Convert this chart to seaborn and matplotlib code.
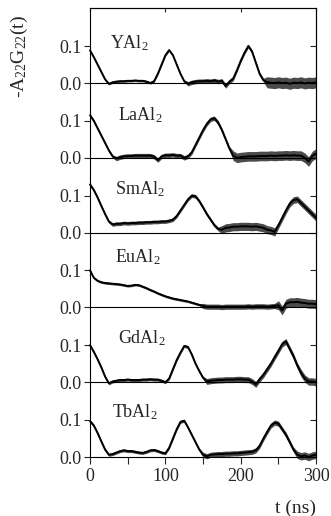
import numpy as np
import pandas as pd
import seaborn as sns
import matplotlib
matplotlib.use("Agg")
import matplotlib.pyplot as plt

# time axis (ns), one reading every 5 ns
t_ns = list(range(0, 301, 5))

samples = ["YAl$_2$", "LaAl$_2$", "SmAl$_2$", "EuAl$_2$", "GdAl$_2$", "TbAl$_2$"]

# mean of the trace
yal2 = [0.088, 0.070, 0.050, 0.030, 0.010, -0.002, 0.002, 0.004, 0.005, 0.005,
        0.006, 0.006, 0.007, 0.006, 0.006, 0.004, 0.000, 0.005, 0.025, 0.050,
        0.075, 0.089, 0.075, 0.050, 0.025, 0.005, -0.002, 0.002, 0.004, 0.005,
        0.005, 0.006, 0.005, 0.007, 0.004, 0.006, -0.008, 0.004, 0.012, 0.035,
        0.060, 0.082, 0.100, 0.085, 0.055, 0.025, 0.008, 0.002, 0.001, 0.000,
        0.002, 0.000, 0.001, -0.002, 0.001, 0.000, 0.002, -0.001, 0.001, 0.000,
        0.002]
laal2 = [0.115, 0.100, 0.080, 0.060, 0.040, 0.020, 0.004, -0.002, 0.002, 0.004,
         0.005, 0.005, 0.006, 0.006, 0.006, 0.006, 0.006, 0.003, -0.006, 0.004,
         0.007, 0.007, 0.008, 0.006, 0.006, 0.000, 0.004, 0.015, 0.035, 0.055,
         0.075, 0.092, 0.104, 0.107, 0.095, 0.075, 0.050, 0.025, 0.006, 0.000,
         0.002, 0.003, 0.004, 0.004, 0.004, 0.005, 0.005, 0.005, 0.006, 0.005,
         0.006, 0.006, 0.007, 0.006, 0.007, 0.006, 0.006, 0.000, -0.010, 0.005,
         0.012]
smal2 = [0.130, 0.115, 0.095, 0.072, 0.050, 0.030, 0.022, 0.024, 0.024, 0.026,
         0.025, 0.026, 0.026, 0.027, 0.027, 0.028, 0.028, 0.029, 0.029, 0.030,
         0.030, 0.032, 0.035, 0.045, 0.060, 0.075, 0.090, 0.100, 0.098, 0.085,
         0.068, 0.050, 0.035, 0.020, 0.010, 0.008, 0.013, 0.014, 0.016, 0.016,
         0.017, 0.017, 0.017, 0.016, 0.017, 0.015, 0.013, 0.008, 0.006, 0.002,
         0.020, 0.040, 0.060, 0.078, 0.088, 0.090, 0.080, 0.070, 0.060, 0.050,
         0.040]
eual2 = [0.100, 0.080, 0.072, 0.068, 0.066, 0.065, 0.064, 0.063, 0.062, 0.060,
         0.058, 0.059, 0.061, 0.060, 0.056, 0.052, 0.047, 0.043, 0.038, 0.034,
         0.030, 0.027, 0.024, 0.022, 0.020, 0.018, 0.016, 0.013, 0.010, 0.007,
         0.004, 0.002, 0.002, 0.002, 0.002, 0.001, 0.002, 0.002, 0.002, 0.002,
         0.002, 0.002, 0.003, 0.002, 0.003, 0.003, 0.003, 0.002, 0.003, 0.004,
         0.006, -0.008, 0.010, 0.014, 0.014, 0.015, 0.013, 0.012, 0.010, 0.010,
         0.009]
gdal2 = [0.100, 0.082, 0.062, 0.040, 0.015, -0.003, 0.002, 0.004, 0.006, 0.006,
         0.007, 0.006, 0.006, 0.006, 0.007, 0.007, 0.008, 0.007, 0.007, 0.004,
         0.000, 0.010, 0.035, 0.060, 0.080, 0.098, 0.095, 0.075, 0.050, 0.030,
         0.012, 0.002, 0.004, 0.005, 0.006, 0.006, 0.007, 0.007, 0.007, 0.008,
         0.008, 0.007, 0.007, 0.002, -0.006, 0.008, 0.020, 0.035, 0.050, 0.068,
         0.085, 0.103, 0.110, 0.090, 0.070, 0.045, 0.025, 0.010, 0.002, 0.002,
         0.000]
tbal2 = [0.097, 0.085, 0.065, 0.042, 0.020, 0.006, 0.008, 0.012, 0.016, 0.018,
         0.016, 0.016, 0.014, 0.012, 0.011, 0.014, 0.018, 0.019, 0.016, 0.012,
         0.010, 0.025, 0.050, 0.075, 0.095, 0.098, 0.080, 0.060, 0.040, 0.020,
         0.006, 0.002, 0.006, 0.007, 0.008, 0.008, 0.009, 0.009, 0.010, 0.010,
         0.011, 0.012, 0.013, 0.014, 0.018, 0.030, 0.050, 0.068, 0.085, 0.093,
         0.090, 0.075, 0.060, 0.040, 0.020, 0.006, 0.002, 0.004, 0.000, 0.004,
         0.006]

# half-width of the noise band around each trace (x 0.001)
yal2_noise = [3] * 26 + [6] * 13 + [5] * 8 + [15] * 14
laal2_noise = [4] * 7 + [6] * 20 + [6] * 11 + [13] * 23
smal2_noise = [4] * 6 + [5] * 29 + [11] * 15 + [9] * 11
eual2_noise = [3] * 30 + [7] * 20 + [12] * 11
gdal2_noise = [4] * 31 + [8] * 15 + [8] * 10 + [10] * 5
tbal2_noise = [4] * 30 + [7] * 25 + [10] * 6

series = [yal2, laal2, smal2, eual2, gdal2, tbal2]
noise = [yal2_noise, laal2_noise, smal2_noise, eual2_noise, gdal2_noise, tbal2_noise]
label_pos = [(27, 0.108), (37, 0.115), (33, 0.117), (33, 0.135), (37, 0.12), (29, 0.12)]

sns.set_theme(style="ticks")
plt.rcParams["font.family"] = ["Liberation Serif", "DejaVu Serif"]
plt.rcParams["mathtext.fontset"] = "custom"
plt.rcParams["mathtext.rm"] = "Liberation Serif"
plt.rcParams["mathtext.it"] = "Liberation Serif:italic"

fig, axes = plt.subplots(6, 1, sharex=True, figsize=(3.31, 5.16), dpi=100)
plt.subplots_adjust(left=0.272, right=0.955, top=0.984, bottom=0.1143, hspace=0)

for i, ax in enumerate(axes):
    df = pd.DataFrame({"t": t_ns, "a": series[i],
                       "w": np.array(noise[i]) / 1000.0})
    # noise envelope, then the trace itself
    ax.fill_between(df["t"], df["a"] - df["w"], df["a"] + df["w"],
                    color="#2b2b2b", alpha=0.85, lw=0, clip_on=False)
    sns.lineplot(data=df, x="t", y="a", ax=ax, color="black", lw=1.4, clip_on=False)
    ax.set_facecolor("none")
    ax.set_xlim(0, 300)
    ax.set_ylim(0, 0.202)
    ax.set_yticks([0.0, 0.1])
    ax.set_yticklabels(["0.0", "0.1"], fontsize=13)
    ax.tick_params(axis="y", direction="out", length=4, width=0.8, pad=2, left=True)
    ax.set_xlabel("")
    ax.set_ylabel("")
    for s in ax.spines.values():
        s.set_linewidth(0.8)
        s.set_color("black")
    ax.spines["top"].set_visible(i == 0)
    sec = ax.secondary_yaxis("right")
    sec.set_yticks([0.0, 0.1])
    sec.tick_params(direction="in", length=4, width=0.8, labelright=False)
    sec.spines["right"].set_linewidth(0.8)
    ax.text(label_pos[i][0], label_pos[i][1], samples[i], fontsize=13,
            ha="left", va="center")

bottom = axes[-1]
bottom.set_xticks([0, 100, 200, 300])
bottom.set_xticks([50, 150, 250], minor=True)
bottom.set_xticklabels(["0", "100", "200", "300"], fontsize=13)
for ax in axes[:-1]:
    ax.tick_params(axis="x", which="both", bottom=False, top=False, labelbottom=False)
bottom.tick_params(axis="x", which="both", direction="out", length=5, width=0.8, pad=3)

top = axes[0].secondary_xaxis("top")
top.set_xticks([0, 100, 200, 300])
top.tick_params(direction="in", length=3, width=0.8, labeltop=False)
top.spines["top"].set_linewidth(0.8)

fig.text(0.955, 1 - 508 / 516, "t (ns)", fontsize=14, ha="right", va="center")
fig.text(0.06, 1 - 57 / 516, "-A$_{22}$G$_{22}$(t)", fontsize=14, rotation=90,
         ha="center", va="center")

fig.savefig("out.png", dpi=100)
